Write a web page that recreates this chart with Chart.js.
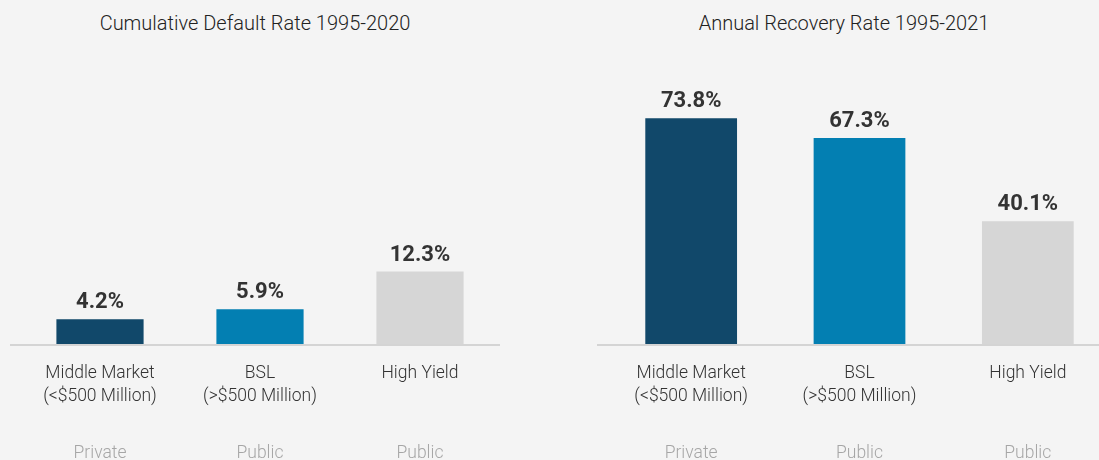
<!DOCTYPE html>
<html>
<head>
<meta charset="utf-8">
<script src="https://cdn.jsdelivr.net/npm/chart.js@4"></script>
<style>
  html, body { margin: 0; padding: 0; }
  body {
    width: 1099px; height: 460px; overflow: hidden; position: relative;
    background: #f4f4f4; font-family: Roboto, "Noto Sans", sans-serif;
  }
  .title {
    position: absolute; top: 13px; width: 510px; text-align: center;
    font-size: 20px; line-height: 20px; color: #222222; font-weight: 300;
    white-space: nowrap;
  }
  canvas { position: absolute; top: 0; }
</style>
</head>
<body>
<div class="title" style="left:0px">Cumulative Default Rate 1995-2020</div>
<div class="title" style="left:589px">Annual Recovery Rate 1995-2021</div>
<canvas id="chartDefault" width="520" height="470" style="left:0px"></canvas>
<canvas id="chartRecovery" width="530" height="470" style="left:590px"></canvas>
<script>
var categories = [
    ['Middle Market', '(<$500 Million)'],
    ['BSL', '(>$500 Million)'],
    ['High Yield']
];
var marketType = ['Private', 'Public', 'Public'];
var defaultRates = [4.2, 5.9, 12.3];
var recoveryRates = [73.8, 67.3, 40.1];
var barColors = ['#11486a', '#037fb2', '#d6d6d6'];

// value labels above each bar
var valueLabels = {
    id: 'valueLabels',
    afterDatasetsDraw: function (chart) {
        var ctx = chart.ctx;
        var meta = chart.getDatasetMeta(0);
        var data = chart.data.datasets[0].data;
        ctx.save();
        ctx.font = 'bold 22px Roboto';
        ctx.fillStyle = '#333333';
        ctx.textAlign = 'center';
        ctx.textBaseline = 'alphabetic';
        meta.data.forEach(function (bar, i) {
            ctx.fillText(data[i].toFixed(1) + '%', bar.x, bar.y - 11);
        });
        ctx.restore();
    }
};

// grey baseline, runs a bit past the left edge of the plot
var baseLine = {
    id: 'baseLine',
    afterDatasetsDraw: function (chart) {
        var ctx = chart.ctx;
        var a = chart.chartArea;
        ctx.save();
        ctx.strokeStyle = '#d4d4d4';
        ctx.lineWidth = 2;
        ctx.beginPath();
        ctx.moveTo(a.left - 10, a.bottom + 1);
        ctx.lineTo(a.right, a.bottom + 1);
        ctx.stroke();
        ctx.restore();
    }
};

function makeChart(el, values, yMax, pad) {
    return new Chart(el, {
        type: 'bar',
        data: {
            labels: categories,
            datasets: [{
                data: values,
                backgroundColor: barColors,
                barPercentage: 0.545,
                categoryPercentage: 1
            }]
        },
        options: {
            responsive: false,
            animation: false,
            layout: { padding: { top: 38, left: pad.left, right: pad.right, bottom: 0 } },
            plugins: { legend: { display: false }, tooltip: { enabled: false } },
            scales: {
                y: { display: false, min: 0, max: yMax },
                x: {
                    grid: { display: false, drawTicks: false },
                    border: { display: false },
                    ticks: {
                        autoSkip: false, maxRotation: 0, padding: 18,
                        color: '#333333',
                        font: { family: 'Roboto', size: 17.5, weight: 300, lineHeight: 1.3 }
                    },
                    afterFit: function (scale) { scale.height = 80; }
                },
                type: {
                    type: 'category',
                    position: 'bottom',
                    weight: 1,
                    labels: marketType,
                    grid: { display: false, drawTicks: false },
                    border: { display: false },
                    ticks: {
                        autoSkip: false, maxRotation: 0, padding: 18,
                        color: '#a6a6a6',
                        font: { family: 'Roboto', size: 17.5, weight: 300, lineHeight: 1.3 }
                    },
                    afterFit: function (scale) { scale.height = 46; }
                }
            }
        },
        plugins: [valueLabels, baseLine]
    });
}

var chartDefault = makeChart(document.getElementById('chartDefault'), defaultRates, 52, { left: 20, right: 20 });
var chartRecovery = makeChart(document.getElementById('chartRecovery'), recoveryRates, 100, { left: 17, right: 8 });
</script>
</body>
</html>
